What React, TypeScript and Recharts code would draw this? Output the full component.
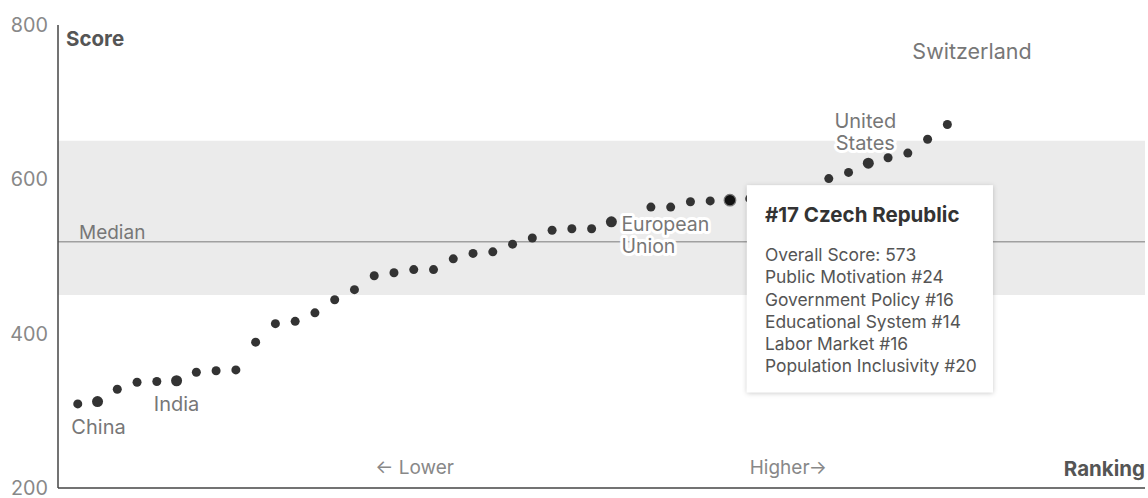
import {
  ScatterChart,
  Scatter,
  XAxis,
  YAxis,
  ReferenceArea,
  ReferenceLine,
  ReferenceDot,
} from "recharts";

// ranking position (x) and overall score (y)
const positions = [
  1, 2, 3, 4, 5, 6, 7, 8, 9, 10, 11, 12, 13, 14, 15, 16, 17, 18, 19, 20, 21, 22,
  23, 24, 25, 26, 27, 28, 30, 31, 32, 33, 34, 35, 39, 40, 41, 42, 43, 44, 45,
];
const scores = [
  309, 312, 328, 337, 338, 339, 350, 352, 353, 389, 413, 416, 427, 444, 457, 475,
  479, 483, 483, 497, 504, 506, 516, 524, 534, 536, 536, 545, 564, 564, 571, 572,
  573, 575, 601, 609, 621, 628, 634, 652, 671,
];
const names: Record<number, string> = {
  2: "China",
  6: "India",
  28: "European Union",
  34: "Czech Republic",
  41: "United States",
  45: "Switzerland",
};

const yTicks = [200, 400, 600, 800];
const band = [450, 650];
const median = 519;

const tipTitle = "#17 Czech Republic";
const tipLines = [
  "Overall Score: 573",
  "Public Motivation #24",
  "Government Policy #16",
  "Educational System #14",
  "Labor Market #16",
  "Population Inclusivity #20",
];

const data = positions.map((p, i) => ({ pos: p, score: scores[i], name: names[p] || "" }));
const scoreOf = (p: number) => scores[positions.indexOf(p)];

const FONT = "Inter, sans-serif";
const LABEL_COLOR = "#777";

const center = (props: any) => {
  const vb = props.viewBox || props;
  return { x: vb.x + (vb.width || 0) / 2, y: vb.y + (vb.height || 0) / 2 };
};

// multi-line text note placed relative to an anchor point
const note =
  (
    lines: string[],
    dx: number,
    dy: number,
    opts: { anchor?: "start" | "middle" | "end"; size?: number; weight?: number; color?: string; halo?: boolean; lh?: number } = {}
  ) =>
  (props: any) => {
    const { x, y } = center(props);
    const size = opts.size || 20;
    return (
      <g>
        {lines.map((t, i) => (
          <text
            key={i}
            x={x + dx}
            y={y + dy + i * (opts.lh || 21)}
            textAnchor={opts.anchor || "start"}
            fontSize={size}
            fontWeight={opts.weight || 400}
            fill={opts.color || LABEL_COLOR}
            fontFamily={FONT}
            stroke={opts.halo ? "#fff" : "none"}
            strokeWidth={opts.halo ? 6 : 0}
            strokeLinejoin="round"
            paintOrder="stroke"
          >
            {t}
          </text>
        ))}
      </g>
    );
  };

const tooltipBox = (props: any) => {
  const { x, y } = center(props);
  const left = x + 17;
  const top = y - 15;
  return (
    <g>
      <defs>
        <filter id="tipShadow" x="-10%" y="-10%" width="120%" height="125%">
          <feDropShadow dx="0" dy="1" stdDeviation="2.5" floodColor="#000" floodOpacity="0.22" />
        </filter>
      </defs>
      <rect x={left} y={top} width={246} height={207} fill="#fff" filter="url(#tipShadow)" />
      <text x={x + 35} y={y + 22.2} fontSize={20.5} fontWeight={700} fill="#333" fontFamily={FONT}>
        {tipTitle}
      </text>
      {tipLines.map((t, i) => (
        <text key={t} x={x + 35} y={y + 61 + i * 22.2} fontSize={17.4} fill="#555" fontFamily={FONT}>
          {t}
        </text>
      ))}
    </g>
  );
};

const renderDot = (props: any) => {
  const { cx, cy, payload } = props;
  const name = payload?.name;
  if (name === "Czech Republic") {
    return <circle cx={cx} cy={cy} r={5.8} fill="#111" stroke="#777" strokeWidth={1.2} />;
  }
  const big = name && name !== "Switzerland";
  return <circle cx={cx} cy={cy} r={big ? 5.5 : 4.5} fill="#333" />;
};

export default function App() {
  return (
    <div style={{ width: 1148, height: 498, fontFamily: FONT }}>
      <style>{`body{margin:0}`}</style>
      <ScatterChart width={1148} height={498} margin={{ top: 25, right: 3, bottom: 9, left: 0 }}>
        <XAxis
          type="number"
          dataKey="pos"
          domain={[0, 55]}
          tick={false}
          tickLine={false}
          height={1}
          axisLine={{ stroke: "#444", strokeWidth: 1.5 }}
        />
        <YAxis
          type="number"
          dataKey="score"
          domain={[200, 800]}
          ticks={yTicks}
          interval={0}
          width={58}
          tickLine={false}
          tickMargin={4}
          axisLine={{ stroke: "#444", strokeWidth: 1.5 }}
          tick={{ fill: "#888", fontSize: 19.8, fontFamily: FONT }}
        />
        <ReferenceArea y1={band[0]} y2={band[1]} fill="#ebebeb" fillOpacity={1} stroke="none" />
        <ReferenceLine
          y={median}
          stroke="#a0a0a0"
          strokeWidth={1.5}
          label={(props: any) => {
            const vb = props.viewBox || props;
            return (
              <text x={vb.x + 21} y={vb.y - 3} fontSize={19} fill={LABEL_COLOR} fontFamily={FONT}>
                Median
              </text>
            );
          }}
        />
        <Scatter data={data} shape={renderDot} isAnimationActive={false} />

        <ReferenceDot x={0} y={800} r={0} ifOverflow="visible" label={note(["Score"], 8, 21.4, { size: 20.5, weight: 700, color: "#555" })} />
        <ReferenceDot x={55} y={200} r={0} ifOverflow="visible" label={note(["Ranking"], 0, -12.3, { size: 20.5, anchor: "end", weight: 700, color: "#555" })} />
        <ReferenceDot x={16} y={200} r={0} ifOverflow="visible" label={note(["\u2190 Lower"], 1, -14.5, { size: 19, color: "#888" })} />
        <ReferenceDot x={35} y={200} r={0} ifOverflow="visible" label={note(["Higher\u2192"], 0, -14.5, { size: 19, color: "#888" })} />

        <ReferenceDot x={2} y={scoreOf(2)} r={0} ifOverflow="visible" label={note([names[2]], 1, 32.6, { anchor: "middle" })} />
        <ReferenceDot x={6} y={scoreOf(6)} r={0} ifOverflow="visible" label={note([names[6]], 0, 30.4, { anchor: "middle" })} />
        <ReferenceDot x={28} y={scoreOf(28)} r={0} ifOverflow="visible" label={note(["European", "Union"], 10, 9.4, { halo: true, size: 19.5, lh: 21.5 })} />
        <ReferenceDot x={41} y={scoreOf(41)} r={0} ifOverflow="visible" label={note(["United", "States"], -3, -35.2, { anchor: "middle", halo: true, lh: 22 })} />
        <ReferenceDot x={45} y={scoreOf(45)} r={0} ifOverflow="visible" label={note([names[45]], -35, -65.1, { size: 21.5 })} />
        <ReferenceDot x={34} y={scoreOf(34)} r={0} ifOverflow="visible" label={tooltipBox} />
      </ScatterChart>
    </div>
  );
}
